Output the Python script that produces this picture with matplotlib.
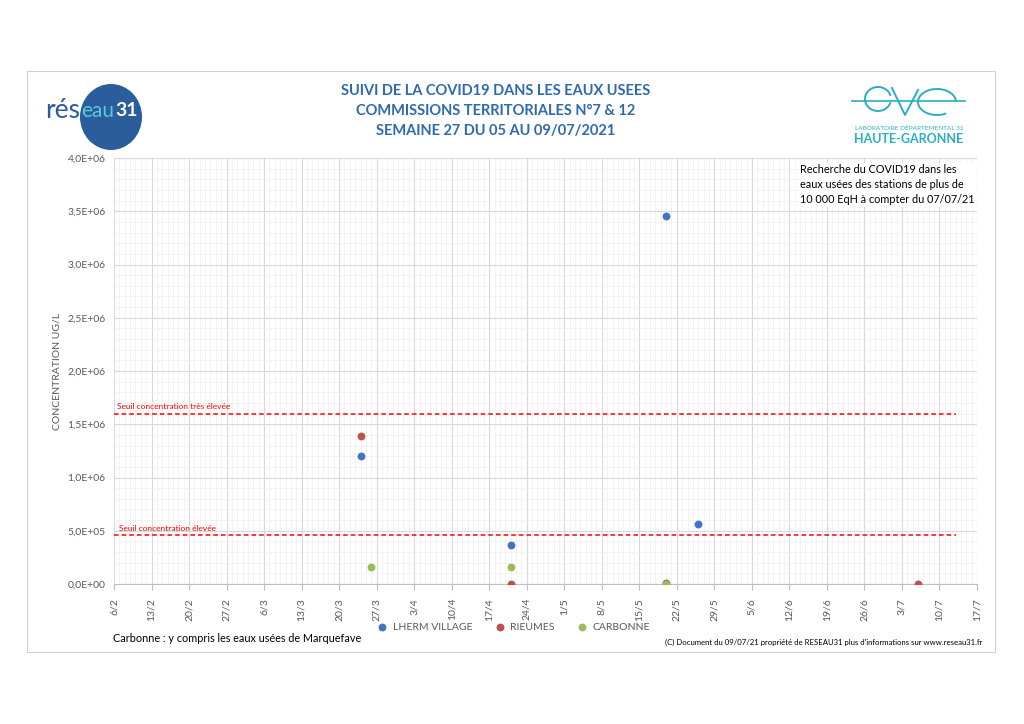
import pandas as pd
import matplotlib
matplotlib.use("Agg")
import matplotlib.pyplot as plt
from matplotlib.patches import Rectangle, Ellipse, Arc

plt.rcParams['font.family'] = ['Lato', 'DejaVu Sans']

# Data
lherm_dates = ["2021-03-24", "2021-04-21", "2021-05-20", "2021-05-26"]
lherm_values = [1.20e6, 0.365e6, 3.46e6, 0.56e6]
rieumes_dates = ["2021-03-24", "2021-04-21", "2021-05-20", "2021-07-06"]
rieumes_values = [1.39e6, 0.0, 0.01e6, 0.0]
carbonne_dates = ["2021-03-26", "2021-04-21", "2021-05-20"]
carbonne_values = [0.16e6, 0.16e6, 0.0]

seuil_tres_eleve = 1.6e6
seuil_eleve = 0.46e6
seuil_start, seuil_end = "2021-02-06", "2021-07-13"
x_start, x_end = "2021-02-06", "2021-07-17"

series = [
    ("LHERM VILLAGE", lherm_dates, lherm_values, "#4472C4"),
    ("RIEUMES", rieumes_dates, rieumes_values, "#C0504D"),
    ("CARBONNE", carbonne_dates, carbonne_values, "#9BBB59"),
]

W, H = 1024, 724
fig = plt.figure(figsize=(W / 100, H / 100), dpi=100)


def px(x, y):
    return x / W, 1 - y / H


# outer frame
fig.patches.append(Rectangle(px(27, 652), 968 / W, 581 / H, transform=fig.transFigure,
                             fill=False, edgecolor="#D0D0D0", linewidth=0.8))

ax = fig.add_axes([114 / W, 1 - 584 / H, (977 - 114) / W, (584 - 158) / H])

for name, d, v, c in series:
    ax.scatter(pd.to_datetime(d), v, s=32, color=c, zorder=5, label=name, linewidths=0)

ax.plot(pd.to_datetime([seuil_start, seuil_end]), [seuil_tres_eleve] * 2,
        color="#FF0000", linestyle=(0, (3, 2)), linewidth=1.1, zorder=4)
ax.plot(pd.to_datetime([seuil_start, seuil_end]), [seuil_eleve] * 2,
        color="#FF0000", linestyle=(0, (3, 2)), linewidth=1.1, zorder=4)
ax.text(pd.Timestamp("2021-02-06 12:00"), seuil_tres_eleve + 0.03e6,
        "Seuil concentration très élevée", color="#FF0000", fontsize=6, va="bottom")
ax.text(pd.Timestamp("2021-02-07"), seuil_eleve + 0.03e6,
        "Seuil concentration élevée", color="#FF0000", fontsize=6, va="bottom")

ax.set_xlim(pd.Timestamp(x_start), pd.Timestamp(x_end))
ax.set_ylim(0, 4e6)

major_x = pd.date_range(x_start, x_end, freq="7D")
minor_x = pd.date_range(x_start, x_end, freq="D")
ax.set_xticks(major_x)
ax.set_xticks(minor_x, minor=True)
ax.set_xticklabels([f"{d.day}/{d.month}" for d in major_x], rotation=90)
yt = [i * 0.5e6 for i in range(9)]
ax.set_yticks(yt)
ax.set_yticks([i * 0.1e6 for i in range(41)], minor=True)
ax.set_yticklabels([f"{v:.1E}".replace(".", ",") for v in yt])

ax.grid(which="major", color="#D9D9D9", linewidth=0.8)
ax.grid(which="minor", color="#EFEFEF", linewidth=0.5)
ax.set_axisbelow(True)
for s in ["top", "right", "left"]:
    ax.spines[s].set_visible(False)
ax.spines["bottom"].set_color("#BFBFBF")
ax.tick_params(which="both", length=0, labelsize=7.5, colors="#595959", pad=6)
ax.tick_params(axis="x", which="major", length=4, color="#BFBFBF")

ax.set_ylabel("CONCENTRATION UG/L", fontsize=7.5, color="#595959", labelpad=4)

ax.text(0.795, 0.985, "Recherche du COVID19 dans les\neaux usées des stations de plus de\n10 000 EqH à compter du 07/07/21",
        transform=ax.transAxes, fontsize=7.8, va="top", ha="left", linespacing=1.45,
        bbox=dict(facecolor="white", edgecolor="none", pad=1))

ax.legend(loc="upper center", bbox_to_anchor=(0.46, -0.068), ncol=3, frameon=False,
          fontsize=7.5, handletextpad=0.05, columnspacing=1.6, markerscale=1.0,
          labelcolor="#595959")

# titles
title_color = "#2E6AAD"
for y, t in [(91, "SUIVI DE LA COVID19 DANS LES EAUX USEES"),
             (111, "COMMISSIONS TERRITORIALES N°7 & 12"),
             (131, "SEMAINE 27 DU 05 AU 09/07/2021")]:
    fig.text(*px(496, y), t, ha="center", va="center", fontsize=10.5,
             fontweight="bold", color=title_color)

fig.text(*px(113, 639), "Carbonne : y compris les eaux usées de Marquefave",
         fontsize=7.8, va="center", ha="left")
fig.text(*px(982, 642), "(C) Document du 09/07/21 propriété de RESEAU31 plus d'informations sur www.reseau31.fr",
         fontsize=5.6, va="center", ha="right")

# reseau31 logo
fig.patches.append(Ellipse(px(111, 117), 62 / W, 66 / H, transform=fig.transFigure,
                           facecolor="#2B5C9B", edgecolor="none"))
fig.text(*px(80, 111), "rés", fontsize=19, color="#2B5C9B", ha="right", va="center")
fig.text(*px(81, 111), "eau", fontsize=15, color="#5CC6DA", ha="left", va="center")
fig.text(*px(115, 111), "31", fontsize=14, color="white", ha="left", va="center",
         fontweight="bold")

# EVA logo
teal = "#29AFC4"
fig.add_artist(plt.Line2D([852 / W, 965 / W], [1 - 101 / H] * 2, transform=fig.transFigure,
                          color=teal, linewidth=1.2))
fig.patches.append(Arc(px(878, 99), 26 / W, 24 / H, theta1=20, theta2=340,
                       transform=fig.transFigure, color=teal, linewidth=1.4))
fig.patches.append(Arc(px(937, 102), 38 / W, 26 / H, theta1=0, theta2=300,
                       transform=fig.transFigure, color=teal, linewidth=1.4))
fig.add_artist(plt.Line2D([892 / W, 905 / W, 918 / W], [1 - 88 / H, 1 - 115 / H, 1 - 90 / H],
                          transform=fig.transFigure, color=teal, linewidth=1.4))
fig.text(*px(909, 128), "LABORATOIRE DÉPARTEMENTAL 31", fontsize=4.6, color=teal,
         ha="center", va="center")
fig.text(*px(909, 139), "HAUTE-GARONNE", fontsize=9, color=teal, fontweight="bold",
         ha="center", va="center")

fig.savefig("out.png", dpi=100)
